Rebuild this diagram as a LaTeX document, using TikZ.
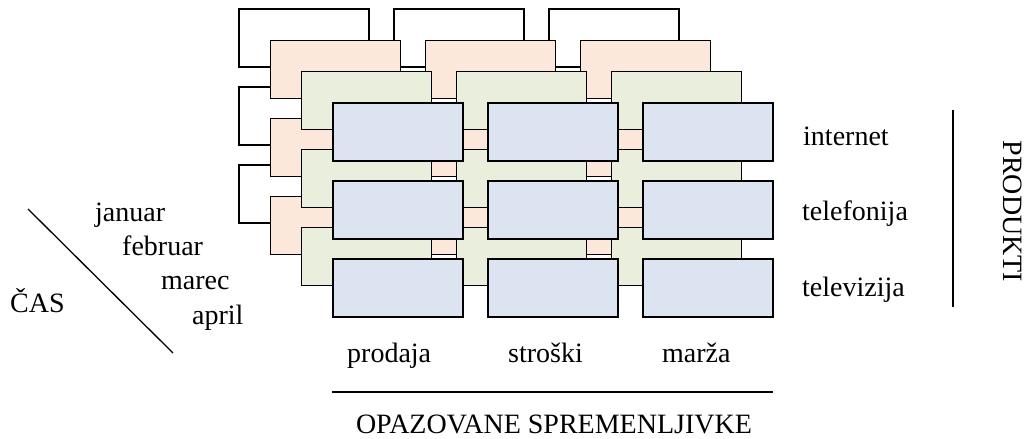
\documentclass[tikz,border=0pt]{standalone}
\usepackage{fontspec}
\setmainfont{Liberation Serif}
\usepackage{xcolor}
\usetikzlibrary{positioning,calc}

\definecolor{peach}{HTML}{FCE8DA}
\definecolor{sage}{HTML}{E9EFDC}
\definecolor{sky}{HTML}{DBE4F0}

\tikzset{
    cell/.style={draw, line width=1.6bp, rectangle, minimum width=130bp, minimum height=58bp,
                 inner sep=0pt, outer sep=0pt, anchor=north west},
    lbl/.style={inner sep=0pt, anchor=base west, font=\fontsize{28bp}{33bp}\selectfont},
    axis/.style={line width=1.3bp}
}

\begin{document}
\begin{tikzpicture}[x=1bp, y=-1bp]
    \useasboundingbox (0,0) rectangle (1026,439);

    % layers: januar (back) ... april (front)
    \foreach \l/\c in {0/white, 1/peach, 2/sage, 3/sky} {
        \foreach \r in {0,1,2} {
            \foreach \k in {0,1,2} {
                \node[cell, fill=\c] (m\l-\r-\k) at (239+31.33*\l+155*\k, 9+31.33*\l+78*\r) {};
            }
        }
    }

    % produkti
    \node[lbl] (internet) at (803,146) {internet};
    \node[lbl] (telefonija) at (802,221) {telefonija};
    \node[lbl] (televizija) at (802,297) {televizija};
    \coordinate (prod-top) at (953,110);
    \coordinate (prod-bot) at (953,307);
    \draw[axis] (prod-top) -- (prod-bot);
    \node[lbl, anchor=center, rotate=-90] (produkti) at (1013,211.5) {PRODUKTI};

    % opazovane spremenljivke
    \node[lbl] (prodaja) at (347,363) {prodaja};
    \node[lbl] (stroski) at (508,363) {stroški};
    \node[lbl] (marza) at (662,363) {marža};
    \coordinate (var-left) at (332,392);
    \coordinate (var-right) at (773,392);
    \draw[axis] (var-left) -- (var-right);
    \node[lbl, anchor=base] (opazovane) at (554,433) {OPAZOVANE SPREMENLJIVKE};

    % cas
    \node[lbl] (januar) at (95,222) {januar};
    \node[lbl] (februar) at (122,256) {februar};
    \node[lbl] (marec) at (161,290) {marec};
    \node[lbl] (april) at (192,325) {april};
    \coordinate (cas-top) at (28,209);
    \coordinate (cas-bot) at (173,353);
    \draw[axis] (cas-top) -- (cas-bot);
    \node[lbl] (cas) at (10,313) {ČAS};
\end{tikzpicture}
\end{document}
